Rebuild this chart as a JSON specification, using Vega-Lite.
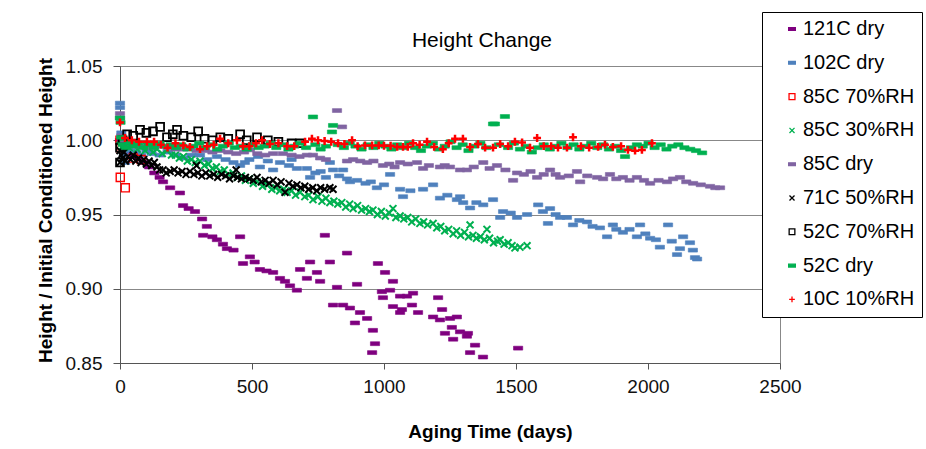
{
  "$schema": "https://vega.github.io/schema/vega-lite/v6.json",
  "autosize": {"type": "none"},
  "width": 660,
  "height": 297,
  "padding": {"left": 120, "top": 66, "right": 146, "bottom": 86},
  "background": "white",
  "title": {"text": "Height Change", "fontSize": 21, "fontWeight": "normal", "font": "Liberation Sans", "color": "black", "anchor": "middle", "frame": "group", "dx": 32, "dy": 42, "offset": -18, "baseline": "bottom"},
  "config": {
    "view": {"stroke": "#888888", "strokeWidth": 1},
    "axis": {"labelFont": "Liberation Sans", "labelFontSize": 19, "labelColor": "#111", "titleFont": "Liberation Sans", "titleFontSize": 19, "titleFontWeight": "bold", "titleColor": "black", "domainColor": "#555", "tickColor": "#555", "gridColor": "#888888", "gridOpacity": 1, "gridWidth": 1},
    "legend": {"padding": 7, "strokeColor": "black", "strokeWidth": 1, "fillColor": "white", "labelFontSize": 20, "labelFont": "Liberation Sans", "labelColor": "black", "symbolSize": 45, "symbolStrokeWidth": 1.3, "rowPadding": 13.8, "labelOffset": 1, "symbolOffset": 13, "cornerRadius": 0, "labelLimit": 300}
  },
  "data": {"values": [
    {"s":"121C dry","t":0,"h":1.0},{"s":"121C dry","t":10,"h":0.998},{"s":"121C dry","t":25,"h":0.995},{"s":"121C dry","t":40,"h":0.992},{"s":"121C dry","t":55,"h":0.99},{"s":"121C dry","t":70,"h":0.988},{"s":"121C dry","t":90,"h":0.985},{"s":"121C dry","t":110,"h":0.982},{"s":"121C dry","t":130,"h":0.978},{"s":"121C dry","t":150,"h":0.975},{"s":"121C dry","t":163,"h":0.972},{"s":"121C dry","t":190,"h":0.968},{"s":"121C dry","t":227,"h":0.9645},{"s":"121C dry","t":239,"h":0.956},{"s":"121C dry","t":260,"h":0.954},{"s":"121C dry","t":284,"h":0.952},{"s":"121C dry","t":311,"h":0.947},{"s":"121C dry","t":329,"h":0.942},{"s":"121C dry","t":315,"h":0.936},{"s":"121C dry","t":350,"h":0.935},{"s":"121C dry","t":367,"h":0.933},{"s":"121C dry","t":390,"h":0.93},{"s":"121C dry","t":405,"h":0.927},{"s":"121C dry","t":455,"h":0.935},{"s":"121C dry","t":430,"h":0.926},{"s":"121C dry","t":466,"h":0.917},{"s":"121C dry","t":492,"h":0.9215},{"s":"121C dry","t":510,"h":0.918},{"s":"121C dry","t":530,"h":0.913},{"s":"121C dry","t":555,"h":0.912},{"s":"121C dry","t":580,"h":0.911},{"s":"121C dry","t":606,"h":0.907},{"s":"121C dry","t":625,"h":0.905},{"s":"121C dry","t":644,"h":0.902},{"s":"121C dry","t":670,"h":0.899},{"s":"121C dry","t":682,"h":0.913},{"s":"121C dry","t":708,"h":0.907},{"s":"121C dry","t":720,"h":0.918},{"s":"121C dry","t":746,"h":0.911},{"s":"121C dry","t":758,"h":0.905},{"s":"121C dry","t":776,"h":0.936},{"s":"121C dry","t":795,"h":0.918},{"s":"121C dry","t":807,"h":0.889},{"s":"121C dry","t":822,"h":0.901},{"s":"121C dry","t":845,"h":0.889},{"s":"121C dry","t":860,"h":0.924},{"s":"121C dry","t":871,"h":0.887},{"s":"121C dry","t":890,"h":0.877},{"s":"121C dry","t":898,"h":0.903},{"s":"121C dry","t":909,"h":0.884},{"s":"121C dry","t":936,"h":0.88},{"s":"121C dry","t":955,"h":0.857},{"s":"121C dry","t":958,"h":0.872},{"s":"121C dry","t":966,"h":0.863},{"s":"121C dry","t":977,"h":0.917},{"s":"121C dry","t":992,"h":0.898},{"s":"121C dry","t":996,"h":0.894},{"s":"121C dry","t":1004,"h":0.911},{"s":"121C dry","t":1023,"h":0.899},{"s":"121C dry","t":1034,"h":0.905},{"s":"121C dry","t":1034,"h":0.888},{"s":"121C dry","t":1061,"h":0.895},{"s":"121C dry","t":1061,"h":0.884},{"s":"121C dry","t":1068,"h":0.886},{"s":"121C dry","t":1087,"h":0.895},{"s":"121C dry","t":1106,"h":0.889},{"s":"121C dry","t":1110,"h":0.897},{"s":"121C dry","t":1129,"h":0.884},{"s":"121C dry","t":1186,"h":0.881},{"s":"121C dry","t":1205,"h":0.894},{"s":"121C dry","t":1212,"h":0.879},{"s":"121C dry","t":1220,"h":0.886},{"s":"121C dry","t":1231,"h":0.87},{"s":"121C dry","t":1250,"h":0.88},{"s":"121C dry","t":1257,"h":0.874},{"s":"121C dry","t":1262,"h":0.866},{"s":"121C dry","t":1276,"h":0.881},{"s":"121C dry","t":1288,"h":0.871},{"s":"121C dry","t":1314,"h":0.868},{"s":"121C dry","t":1318,"h":0.87},{"s":"121C dry","t":1326,"h":0.857},{"s":"121C dry","t":1345,"h":0.862},{"s":"121C dry","t":1375,"h":0.854},{"s":"121C dry","t":1508,"h":0.86},

    {"s":"102C dry","t":0,"h":1.025},{"s":"102C dry","t":0,"h":1.022},{"s":"102C dry","t":5,"h":1.005},{"s":"102C dry","t":10,"h":0.998},{"s":"102C dry","t":15,"h":0.99},{"s":"102C dry","t":20,"h":0.985},{"s":"102C dry","t":30,"h":0.995},{"s":"102C dry","t":40,"h":0.993},{"s":"102C dry","t":60,"h":0.992},{"s":"102C dry","t":80,"h":0.99},{"s":"102C dry","t":100,"h":0.993},{"s":"102C dry","t":120,"h":0.991},{"s":"102C dry","t":150,"h":0.99},{"s":"102C dry","t":180,"h":0.992},{"s":"102C dry","t":210,"h":0.99},{"s":"102C dry","t":240,"h":0.988},{"s":"102C dry","t":270,"h":0.99},{"s":"102C dry","t":303,"h":0.99},{"s":"102C dry","t":330,"h":0.987},{"s":"102C dry","t":367,"h":0.989},{"s":"102C dry","t":400,"h":0.987},{"s":"102C dry","t":430,"h":0.985},{"s":"102C dry","t":455,"h":0.983},{"s":"102C dry","t":473,"h":0.985},{"s":"102C dry","t":490,"h":0.987},{"s":"102C dry","t":523,"h":0.989},{"s":"102C dry","t":530,"h":0.982},{"s":"102C dry","t":560,"h":0.986},{"s":"102C dry","t":580,"h":0.98},{"s":"102C dry","t":606,"h":0.985},{"s":"102C dry","t":640,"h":0.983},{"s":"102C dry","t":650,"h":0.987},{"s":"102C dry","t":670,"h":0.981},{"s":"102C dry","t":708,"h":0.981},{"s":"102C dry","t":720,"h":0.975},{"s":"102C dry","t":740,"h":0.978},{"s":"102C dry","t":760,"h":0.979},{"s":"102C dry","t":780,"h":0.975},{"s":"102C dry","t":795,"h":0.985},{"s":"102C dry","t":807,"h":0.98},{"s":"102C dry","t":830,"h":0.976},{"s":"102C dry","t":845,"h":0.98},{"s":"102C dry","t":860,"h":0.974},{"s":"102C dry","t":871,"h":0.972},{"s":"102C dry","t":898,"h":0.973},{"s":"102C dry","t":930,"h":0.971},{"s":"102C dry","t":950,"h":0.972},{"s":"102C dry","t":973,"h":0.968},{"s":"102C dry","t":1000,"h":0.97},{"s":"102C dry","t":1023,"h":0.977},{"s":"102C dry","t":1061,"h":0.967},{"s":"102C dry","t":1072,"h":0.962},{"s":"102C dry","t":1100,"h":0.966},{"s":"102C dry","t":1148,"h":0.967},{"s":"102C dry","t":1186,"h":0.97},{"s":"102C dry","t":1212,"h":0.961},{"s":"102C dry","t":1240,"h":0.963},{"s":"102C dry","t":1276,"h":0.96},{"s":"102C dry","t":1288,"h":0.962},{"s":"102C dry","t":1300,"h":0.958},{"s":"102C dry","t":1326,"h":0.9544},{"s":"102C dry","t":1350,"h":0.958},{"s":"102C dry","t":1376,"h":0.9565},{"s":"102C dry","t":1413,"h":0.96},{"s":"102C dry","t":1440,"h":0.948},{"s":"102C dry","t":1451,"h":0.952},{"s":"102C dry","t":1480,"h":0.951},{"s":"102C dry","t":1504,"h":0.948},{"s":"102C dry","t":1542,"h":0.95},{"s":"102C dry","t":1584,"h":0.9565},{"s":"102C dry","t":1602,"h":0.952},{"s":"102C dry","t":1621,"h":0.944},{"s":"102C dry","t":1629,"h":0.954},{"s":"102C dry","t":1650,"h":0.95},{"s":"102C dry","t":1667,"h":0.948},{"s":"102C dry","t":1693,"h":0.948},{"s":"102C dry","t":1716,"h":0.943},{"s":"102C dry","t":1740,"h":0.946},{"s":"102C dry","t":1769,"h":0.945},{"s":"102C dry","t":1790,"h":0.942},{"s":"102C dry","t":1818,"h":0.941},{"s":"102C dry","t":1845,"h":0.935},{"s":"102C dry","t":1867,"h":0.943},{"s":"102C dry","t":1880,"h":0.94},{"s":"102C dry","t":1905,"h":0.938},{"s":"102C dry","t":1930,"h":0.94},{"s":"102C dry","t":1958,"h":0.935},{"s":"102C dry","t":1970,"h":0.943},{"s":"102C dry","t":1990,"h":0.937},{"s":"102C dry","t":2008,"h":0.934},{"s":"102C dry","t":2030,"h":0.933},{"s":"102C dry","t":2045,"h":0.928},{"s":"102C dry","t":2076,"h":0.943},{"s":"102C dry","t":2090,"h":0.932},{"s":"102C dry","t":2110,"h":0.923},{"s":"102C dry","t":2121,"h":0.927},{"s":"102C dry","t":2133,"h":0.935},{"s":"102C dry","t":2159,"h":0.931},{"s":"102C dry","t":2170,"h":0.926},{"s":"102C dry","t":2178,"h":0.921},{"s":"102C dry","t":2186,"h":0.92},

    {"s":"85C 70%RH","t":0,"h":1.0},{"s":"85C 70%RH","t":3,"h":0.995},{"s":"85C 70%RH","t":1,"h":0.975},{"s":"85C 70%RH","t":20,"h":0.968},{"s":"85C 70%RH","t":50,"h":0.988},{"s":"85C 70%RH","t":80,"h":0.987},

    {"s":"85C 30%RH","t":0,"h":1.0},{"s":"85C 30%RH","t":10,"h":0.996},{"s":"85C 30%RH","t":20,"h":0.998},{"s":"85C 30%RH","t":35,"h":0.995},{"s":"85C 30%RH","t":50,"h":0.997},{"s":"85C 30%RH","t":65,"h":0.994},{"s":"85C 30%RH","t":80,"h":0.996},{"s":"85C 30%RH","t":95,"h":0.993},{"s":"85C 30%RH","t":110,"h":0.995},{"s":"85C 30%RH","t":125,"h":0.992},{"s":"85C 30%RH","t":140,"h":0.994},{"s":"85C 30%RH","t":160,"h":0.991},{"s":"85C 30%RH","t":178,"h":0.993},{"s":"85C 30%RH","t":195,"h":0.99},{"s":"85C 30%RH","t":210,"h":0.99},{"s":"85C 30%RH","t":225,"h":0.988},{"s":"85C 30%RH","t":240,"h":0.989},{"s":"85C 30%RH","t":255,"h":0.986},{"s":"85C 30%RH","t":270,"h":0.987},{"s":"85C 30%RH","t":285,"h":0.985},{"s":"85C 30%RH","t":303,"h":0.986},{"s":"85C 30%RH","t":320,"h":0.983},{"s":"85C 30%RH","t":335,"h":0.984},{"s":"85C 30%RH","t":350,"h":0.981},{"s":"85C 30%RH","t":365,"h":0.982},{"s":"85C 30%RH","t":380,"h":0.979},{"s":"85C 30%RH","t":395,"h":0.98},{"s":"85C 30%RH","t":410,"h":0.977},{"s":"85C 30%RH","t":428,"h":0.978},{"s":"85C 30%RH","t":445,"h":0.975},{"s":"85C 30%RH","t":460,"h":0.976},{"s":"85C 30%RH","t":475,"h":0.973},{"s":"85C 30%RH","t":490,"h":0.974},{"s":"85C 30%RH","t":505,"h":0.971},{"s":"85C 30%RH","t":520,"h":0.972},{"s":"85C 30%RH","t":540,"h":0.969},{"s":"85C 30%RH","t":557,"h":0.97},{"s":"85C 30%RH","t":575,"h":0.967},{"s":"85C 30%RH","t":590,"h":0.968},{"s":"85C 30%RH","t":605,"h":0.966},{"s":"85C 30%RH","t":620,"h":0.967},{"s":"85C 30%RH","t":633,"h":0.965},{"s":"85C 30%RH","t":650,"h":0.966},{"s":"85C 30%RH","t":665,"h":0.963},{"s":"85C 30%RH","t":682,"h":0.965},{"s":"85C 30%RH","t":700,"h":0.962},{"s":"85C 30%RH","t":715,"h":0.963},{"s":"85C 30%RH","t":731,"h":0.96},{"s":"85C 30%RH","t":750,"h":0.962},{"s":"85C 30%RH","t":765,"h":0.959},{"s":"85C 30%RH","t":780,"h":0.961},{"s":"85C 30%RH","t":795,"h":0.958},{"s":"85C 30%RH","t":810,"h":0.959},{"s":"85C 30%RH","t":825,"h":0.957},{"s":"85C 30%RH","t":840,"h":0.958},{"s":"85C 30%RH","t":855,"h":0.955},{"s":"85C 30%RH","t":870,"h":0.957},{"s":"85C 30%RH","t":883,"h":0.954},{"s":"85C 30%RH","t":900,"h":0.956},{"s":"85C 30%RH","t":915,"h":0.953},{"s":"85C 30%RH","t":930,"h":0.954},{"s":"85C 30%RH","t":945,"h":0.952},{"s":"85C 30%RH","t":958,"h":0.953},{"s":"85C 30%RH","t":975,"h":0.95},{"s":"85C 30%RH","t":990,"h":0.952},{"s":"85C 30%RH","t":1005,"h":0.949},{"s":"85C 30%RH","t":1020,"h":0.951},{"s":"85C 30%RH","t":1034,"h":0.954},{"s":"85C 30%RH","t":1045,"h":0.948},{"s":"85C 30%RH","t":1061,"h":0.949},{"s":"85C 30%RH","t":1075,"h":0.947},{"s":"85C 30%RH","t":1090,"h":0.948},{"s":"85C 30%RH","t":1105,"h":0.945},{"s":"85C 30%RH","t":1120,"h":0.947},{"s":"85C 30%RH","t":1136,"h":0.944},{"s":"85C 30%RH","t":1150,"h":0.945},{"s":"85C 30%RH","t":1165,"h":0.943},{"s":"85C 30%RH","t":1186,"h":0.944},{"s":"85C 30%RH","t":1200,"h":0.941},{"s":"85C 30%RH","t":1215,"h":0.942},{"s":"85C 30%RH","t":1230,"h":0.939},{"s":"85C 30%RH","t":1245,"h":0.94},{"s":"85C 30%RH","t":1262,"h":0.937},{"s":"85C 30%RH","t":1275,"h":0.939},{"s":"85C 30%RH","t":1290,"h":0.936},{"s":"85C 30%RH","t":1305,"h":0.938},{"s":"85C 30%RH","t":1320,"h":0.935},{"s":"85C 30%RH","t":1326,"h":0.943},{"s":"85C 30%RH","t":1337,"h":0.936},{"s":"85C 30%RH","t":1350,"h":0.934},{"s":"85C 30%RH","t":1365,"h":0.935},{"s":"85C 30%RH","t":1380,"h":0.933},{"s":"85C 30%RH","t":1390,"h":0.94},{"s":"85C 30%RH","t":1400,"h":0.934},{"s":"85C 30%RH","t":1415,"h":0.931},{"s":"85C 30%RH","t":1430,"h":0.932},{"s":"85C 30%RH","t":1440,"h":0.933},{"s":"85C 30%RH","t":1455,"h":0.93},{"s":"85C 30%RH","t":1470,"h":0.931},{"s":"85C 30%RH","t":1485,"h":0.929},{"s":"85C 30%RH","t":1496,"h":0.9275},{"s":"85C 30%RH","t":1515,"h":0.928},{"s":"85C 30%RH","t":1542,"h":0.929},

    {"s":"85C dry","t":0,"h":1.018},{"s":"85C dry","t":0,"h":1.015},{"s":"85C dry","t":5,"h":1.003},{"s":"85C dry","t":20,"h":0.998},{"s":"85C dry","t":40,"h":0.997},{"s":"85C dry","t":60,"h":0.996},{"s":"85C dry","t":90,"h":0.996},{"s":"85C dry","t":120,"h":0.995},{"s":"85C dry","t":150,"h":0.996},{"s":"85C dry","t":180,"h":0.995},{"s":"85C dry","t":210,"h":0.994},{"s":"85C dry","t":240,"h":0.994},{"s":"85C dry","t":265,"h":0.9955},{"s":"85C dry","t":290,"h":0.993},{"s":"85C dry","t":320,"h":0.993},{"s":"85C dry","t":350,"h":0.992},{"s":"85C dry","t":380,"h":0.993},{"s":"85C dry","t":410,"h":0.992},{"s":"85C dry","t":440,"h":0.991},{"s":"85C dry","t":470,"h":0.992},{"s":"85C dry","t":492,"h":0.9935},{"s":"85C dry","t":520,"h":0.991},{"s":"85C dry","t":550,"h":0.99},{"s":"85C dry","t":580,"h":0.991},{"s":"85C dry","t":617,"h":0.991},{"s":"85C dry","t":650,"h":0.99},{"s":"85C dry","t":680,"h":0.989},{"s":"85C dry","t":708,"h":0.99},{"s":"85C dry","t":731,"h":0.99},{"s":"85C dry","t":758,"h":0.988},{"s":"85C dry","t":780,"h":0.987},{"s":"85C dry","t":822,"h":1.02},{"s":"85C dry","t":841,"h":1.009},{"s":"85C dry","t":860,"h":0.986},{"s":"85C dry","t":883,"h":0.987},{"s":"85C dry","t":910,"h":0.986},{"s":"85C dry","t":936,"h":0.985},{"s":"85C dry","t":960,"h":0.986},{"s":"85C dry","t":996,"h":0.983},{"s":"85C dry","t":1020,"h":0.984},{"s":"85C dry","t":1040,"h":0.982},{"s":"85C dry","t":1061,"h":0.985},{"s":"85C dry","t":1090,"h":0.984},{"s":"85C dry","t":1125,"h":0.985},{"s":"85C dry","t":1148,"h":0.981},{"s":"85C dry","t":1170,"h":0.983},{"s":"85C dry","t":1212,"h":0.982},{"s":"85C dry","t":1230,"h":0.983},{"s":"85C dry","t":1250,"h":0.982},{"s":"85C dry","t":1288,"h":0.98},{"s":"85C dry","t":1314,"h":0.98},{"s":"85C dry","t":1340,"h":0.982},{"s":"85C dry","t":1376,"h":0.985},{"s":"85C dry","t":1400,"h":0.981},{"s":"85C dry","t":1428,"h":0.983},{"s":"85C dry","t":1460,"h":0.98},{"s":"85C dry","t":1489,"h":0.973},{"s":"85C dry","t":1504,"h":0.978},{"s":"85C dry","t":1530,"h":0.977},{"s":"85C dry","t":1555,"h":0.979},{"s":"85C dry","t":1580,"h":0.975},{"s":"85C dry","t":1605,"h":0.977},{"s":"85C dry","t":1629,"h":0.98},{"s":"85C dry","t":1650,"h":0.977},{"s":"85C dry","t":1667,"h":0.975},{"s":"85C dry","t":1700,"h":0.976},{"s":"85C dry","t":1731,"h":0.979},{"s":"85C dry","t":1743,"h":0.972},{"s":"85C dry","t":1770,"h":0.976},{"s":"85C dry","t":1807,"h":0.975},{"s":"85C dry","t":1830,"h":0.974},{"s":"85C dry","t":1856,"h":0.977},{"s":"85C dry","t":1880,"h":0.974},{"s":"85C dry","t":1905,"h":0.975},{"s":"85C dry","t":1930,"h":0.973},{"s":"85C dry","t":1958,"h":0.975},{"s":"85C dry","t":1985,"h":0.973},{"s":"85C dry","t":2008,"h":0.971},{"s":"85C dry","t":2040,"h":0.973},{"s":"85C dry","t":2072,"h":0.972},{"s":"85C dry","t":2095,"h":0.974},{"s":"85C dry","t":2121,"h":0.975},{"s":"85C dry","t":2145,"h":0.972},{"s":"85C dry","t":2171,"h":0.971},{"s":"85C dry","t":2200,"h":0.97},{"s":"85C dry","t":2235,"h":0.969},{"s":"85C dry","t":2255,"h":0.968},{"s":"85C dry","t":2273,"h":0.968},

    {"s":"71C 50%RH","t":0,"h":0.993},{"s":"71C 50%RH","t":0,"h":0.985},{"s":"71C 50%RH","t":5,"h":0.99},{"s":"71C 50%RH","t":10,"h":0.988},{"s":"71C 50%RH","t":15,"h":0.992},{"s":"71C 50%RH","t":20,"h":0.986},{"s":"71C 50%RH","t":30,"h":0.989},{"s":"71C 50%RH","t":40,"h":0.987},{"s":"71C 50%RH","t":50,"h":0.99},{"s":"71C 50%RH","t":60,"h":0.986},{"s":"71C 50%RH","t":70,"h":0.988},{"s":"71C 50%RH","t":80,"h":0.985},{"s":"71C 50%RH","t":90,"h":0.987},{"s":"71C 50%RH","t":100,"h":0.984},{"s":"71C 50%RH","t":110,"h":0.986},{"s":"71C 50%RH","t":120,"h":0.983},{"s":"71C 50%RH","t":130,"h":0.985},{"s":"71C 50%RH","t":140,"h":0.982},{"s":"71C 50%RH","t":150,"h":0.98},{"s":"71C 50%RH","t":163,"h":0.98},{"s":"71C 50%RH","t":175,"h":0.978},{"s":"71C 50%RH","t":190,"h":0.979},{"s":"71C 50%RH","t":205,"h":0.98},{"s":"71C 50%RH","t":220,"h":0.978},{"s":"71C 50%RH","t":235,"h":0.979},{"s":"71C 50%RH","t":250,"h":0.977},{"s":"71C 50%RH","t":265,"h":0.979},{"s":"71C 50%RH","t":280,"h":0.977},{"s":"71C 50%RH","t":290,"h":0.983},{"s":"71C 50%RH","t":295,"h":0.978},{"s":"71C 50%RH","t":310,"h":0.976},{"s":"71C 50%RH","t":325,"h":0.978},{"s":"71C 50%RH","t":340,"h":0.976},{"s":"71C 50%RH","t":355,"h":0.977},{"s":"71C 50%RH","t":370,"h":0.975},{"s":"71C 50%RH","t":385,"h":0.977},{"s":"71C 50%RH","t":400,"h":0.976},{"s":"71C 50%RH","t":415,"h":0.974},{"s":"71C 50%RH","t":430,"h":0.976},{"s":"71C 50%RH","t":440,"h":0.98},{"s":"71C 50%RH","t":445,"h":0.975},{"s":"71C 50%RH","t":460,"h":0.974},{"s":"71C 50%RH","t":475,"h":0.975},{"s":"71C 50%RH","t":490,"h":0.974},{"s":"71C 50%RH","t":505,"h":0.973},{"s":"71C 50%RH","t":519,"h":0.975},{"s":"71C 50%RH","t":535,"h":0.972},{"s":"71C 50%RH","t":550,"h":0.973},{"s":"71C 50%RH","t":565,"h":0.971},{"s":"71C 50%RH","t":580,"h":0.973},{"s":"71C 50%RH","t":595,"h":0.97},{"s":"71C 50%RH","t":610,"h":0.972},{"s":"71C 50%RH","t":625,"h":0.965},{"s":"71C 50%RH","t":640,"h":0.971},{"s":"71C 50%RH","t":655,"h":0.969},{"s":"71C 50%RH","t":670,"h":0.97},{"s":"71C 50%RH","t":685,"h":0.968},{"s":"71C 50%RH","t":700,"h":0.969},{"s":"71C 50%RH","t":715,"h":0.967},{"s":"71C 50%RH","t":730,"h":0.968},{"s":"71C 50%RH","t":745,"h":0.966},{"s":"71C 50%RH","t":760,"h":0.968},{"s":"71C 50%RH","t":775,"h":0.967},{"s":"71C 50%RH","t":795,"h":0.968},{"s":"71C 50%RH","t":807,"h":0.967},

    {"s":"52C 70%RH","t":0,"h":0.985},{"s":"52C 70%RH","t":0,"h":0.995},{"s":"52C 70%RH","t":10,"h":1.0},{"s":"52C 70%RH","t":27,"h":1.004},{"s":"52C 70%RH","t":50,"h":1.003},{"s":"52C 70%RH","t":76,"h":1.007},{"s":"52C 70%RH","t":100,"h":1.005},{"s":"52C 70%RH","t":125,"h":1.006},{"s":"52C 70%RH","t":152,"h":1.009},{"s":"52C 70%RH","t":178,"h":1.002},{"s":"52C 70%RH","t":200,"h":1.004},{"s":"52C 70%RH","t":216,"h":1.007},{"s":"52C 70%RH","t":240,"h":1.003},{"s":"52C 70%RH","t":270,"h":1.002},{"s":"52C 70%RH","t":296,"h":1.006},{"s":"52C 70%RH","t":320,"h":1.001},{"s":"52C 70%RH","t":350,"h":1.0},{"s":"52C 70%RH","t":380,"h":1.002},{"s":"52C 70%RH","t":410,"h":1.001},{"s":"52C 70%RH","t":455,"h":1.004},{"s":"52C 70%RH","t":480,"h":1.0},{"s":"52C 70%RH","t":519,"h":1.002},{"s":"52C 70%RH","t":560,"h":1.0},{"s":"52C 70%RH","t":600,"h":0.999},{"s":"52C 70%RH","t":650,"h":0.998},{"s":"52C 70%RH","t":682,"h":0.998},

    {"s":"52C dry","t":0,"h":1.015},{"s":"52C dry","t":2,"h":1.012},{"s":"52C dry","t":5,"h":1.002},{"s":"52C dry","t":10,"h":0.997},{"s":"52C dry","t":22,"h":0.995},{"s":"52C dry","t":35,"h":0.998},{"s":"52C dry","t":50,"h":0.996},{"s":"52C dry","t":68,"h":0.998},{"s":"52C dry","t":88,"h":0.995},{"s":"52C dry","t":108,"h":0.997},{"s":"52C dry","t":128,"h":0.995},{"s":"52C dry","t":150,"h":0.998},{"s":"52C dry","t":170,"h":0.996},{"s":"52C dry","t":192,"h":0.997},{"s":"52C dry","t":212,"h":0.995},{"s":"52C dry","t":232,"h":0.997},{"s":"52C dry","t":255,"h":0.994},{"s":"52C dry","t":278,"h":0.996},{"s":"52C dry","t":300,"h":0.998},{"s":"52C dry","t":322,"h":0.995},{"s":"52C dry","t":345,"h":0.997},{"s":"52C dry","t":368,"h":0.994},{"s":"52C dry","t":390,"h":0.996},{"s":"52C dry","t":412,"h":0.998},{"s":"52C dry","t":435,"h":0.995},{"s":"52C dry","t":458,"h":0.996},{"s":"52C dry","t":480,"h":0.994},{"s":"52C dry","t":502,"h":0.997},{"s":"52C dry","t":525,"h":0.995},{"s":"52C dry","t":548,"h":0.996},{"s":"52C dry","t":570,"h":0.998},{"s":"52C dry","t":592,"h":0.995},{"s":"52C dry","t":615,"h":0.997},{"s":"52C dry","t":638,"h":0.994},{"s":"52C dry","t":660,"h":0.996},{"s":"52C dry","t":682,"h":0.998},{"s":"52C dry","t":705,"h":0.995},{"s":"52C dry","t":731,"h":1.0157},{"s":"52C dry","t":740,"h":0.997},{"s":"52C dry","t":760,"h":0.994},{"s":"52C dry","t":780,"h":0.996},{"s":"52C dry","t":803,"h":1.0056},{"s":"52C dry","t":807,"h":1.01},{"s":"52C dry","t":825,"h":0.997},{"s":"52C dry","t":848,"h":0.995},{"s":"52C dry","t":870,"h":0.998},{"s":"52C dry","t":892,"h":0.996},{"s":"52C dry","t":915,"h":0.994},{"s":"52C dry","t":938,"h":0.997},{"s":"52C dry","t":960,"h":0.995},{"s":"52C dry","t":982,"h":0.998},{"s":"52C dry","t":1005,"h":0.996},{"s":"52C dry","t":1028,"h":0.994},{"s":"52C dry","t":1050,"h":0.997},{"s":"52C dry","t":1072,"h":0.995},{"s":"52C dry","t":1095,"h":0.998},{"s":"52C dry","t":1118,"h":0.995},{"s":"52C dry","t":1140,"h":0.993},{"s":"52C dry","t":1162,"h":0.996},{"s":"52C dry","t":1185,"h":0.998},{"s":"52C dry","t":1208,"h":0.994},{"s":"52C dry","t":1230,"h":0.996},{"s":"52C dry","t":1252,"h":0.999},{"s":"52C dry","t":1275,"h":0.995},{"s":"52C dry","t":1298,"h":0.997},{"s":"52C dry","t":1320,"h":0.993},{"s":"52C dry","t":1342,"h":0.996},{"s":"52C dry","t":1365,"h":0.998},{"s":"52C dry","t":1388,"h":0.995},{"s":"52C dry","t":1413,"h":1.011},{"s":"52C dry","t":1420,"h":1.011},{"s":"52C dry","t":1435,"h":0.997},{"s":"52C dry","t":1458,"h":1.016},{"s":"52C dry","t":1470,"h":0.995},{"s":"52C dry","t":1492,"h":0.998},{"s":"52C dry","t":1515,"h":0.994},{"s":"52C dry","t":1538,"h":0.996},{"s":"52C dry","t":1560,"h":0.992},{"s":"52C dry","t":1582,"h":0.995},{"s":"52C dry","t":1605,"h":0.997},{"s":"52C dry","t":1628,"h":0.994},{"s":"52C dry","t":1650,"h":0.996},{"s":"52C dry","t":1672,"h":0.998},{"s":"52C dry","t":1695,"h":0.995},{"s":"52C dry","t":1718,"h":0.997},{"s":"52C dry","t":1740,"h":0.994},{"s":"52C dry","t":1762,"h":0.996},{"s":"52C dry","t":1785,"h":0.998},{"s":"52C dry","t":1808,"h":0.995},{"s":"52C dry","t":1830,"h":0.997},{"s":"52C dry","t":1852,"h":0.994},{"s":"52C dry","t":1875,"h":0.996},{"s":"52C dry","t":1898,"h":0.993},{"s":"52C dry","t":1913,"h":0.989},{"s":"52C dry","t":1935,"h":0.995},{"s":"52C dry","t":1958,"h":0.997},{"s":"52C dry","t":1980,"h":0.996},{"s":"52C dry","t":2002,"h":0.998},{"s":"52C dry","t":2025,"h":0.995},{"s":"52C dry","t":2048,"h":0.997},{"s":"52C dry","t":2070,"h":0.994},{"s":"52C dry","t":2092,"h":0.996},{"s":"52C dry","t":2115,"h":0.997},{"s":"52C dry","t":2138,"h":0.995},{"s":"52C dry","t":2160,"h":0.994},{"s":"52C dry","t":2182,"h":0.993},{"s":"52C dry","t":2205,"h":0.9915},

    {"s":"10C 10%RH","t":0,"h":1.012},{"s":"10C 10%RH","t":19,"h":1.0015},{"s":"10C 10%RH","t":45,"h":1.0},{"s":"10C 10%RH","t":72,"h":0.999},{"s":"10C 10%RH","t":102,"h":0.999},{"s":"10C 10%RH","t":129,"h":0.999},{"s":"10C 10%RH","t":155,"h":0.997},{"s":"10C 10%RH","t":180,"h":0.995},{"s":"10C 10%RH","t":210,"h":0.998},{"s":"10C 10%RH","t":240,"h":0.9965},{"s":"10C 10%RH","t":265,"h":0.9955},{"s":"10C 10%RH","t":303,"h":0.994},{"s":"10C 10%RH","t":330,"h":0.996},{"s":"10C 10%RH","t":355,"h":0.997},{"s":"10C 10%RH","t":379,"h":1.001},{"s":"10C 10%RH","t":410,"h":0.998},{"s":"10C 10%RH","t":443,"h":1.0},{"s":"10C 10%RH","t":466,"h":0.996},{"s":"10C 10%RH","t":490,"h":0.996},{"s":"10C 10%RH","t":515,"h":0.998},{"s":"10C 10%RH","t":538,"h":1.0},{"s":"10C 10%RH","t":568,"h":0.9975},{"s":"10C 10%RH","t":600,"h":0.998},{"s":"10C 10%RH","t":633,"h":0.996},{"s":"10C 10%RH","t":660,"h":0.996},{"s":"10C 10%RH","t":701,"h":0.999},{"s":"10C 10%RH","t":727,"h":1.001},{"s":"10C 10%RH","t":750,"h":1.0},{"s":"10C 10%RH","t":775,"h":0.9995},{"s":"10C 10%RH","t":800,"h":0.999},{"s":"10C 10%RH","t":826,"h":0.998},{"s":"10C 10%RH","t":850,"h":0.9975},{"s":"10C 10%RH","t":879,"h":1.0},{"s":"10C 10%RH","t":900,"h":0.996},{"s":"10C 10%RH","t":928,"h":0.9965},{"s":"10C 10%RH","t":955,"h":0.9965},{"s":"10C 10%RH","t":980,"h":0.9965},{"s":"10C 10%RH","t":1000,"h":0.9963},{"s":"10C 10%RH","t":1025,"h":0.9963},{"s":"10C 10%RH","t":1050,"h":0.9955},{"s":"10C 10%RH","t":1072,"h":0.9955},{"s":"10C 10%RH","t":1090,"h":0.9955},{"s":"10C 10%RH","t":1110,"h":0.998},{"s":"10C 10%RH","t":1135,"h":0.997},{"s":"10C 10%RH","t":1163,"h":0.999},{"s":"10C 10%RH","t":1190,"h":0.9955},{"s":"10C 10%RH","t":1223,"h":0.994},{"s":"10C 10%RH","t":1245,"h":0.998},{"s":"10C 10%RH","t":1269,"h":1.001},{"s":"10C 10%RH","t":1299,"h":1.001},{"s":"10C 10%RH","t":1326,"h":0.9955},{"s":"10C 10%RH","t":1356,"h":0.9975},{"s":"10C 10%RH","t":1383,"h":0.995},{"s":"10C 10%RH","t":1413,"h":0.995},{"s":"10C 10%RH","t":1440,"h":0.9975},{"s":"10C 10%RH","t":1470,"h":0.996},{"s":"10C 10%RH","t":1496,"h":0.999},{"s":"10C 10%RH","t":1523,"h":0.9985},{"s":"10C 10%RH","t":1553,"h":0.995},{"s":"10C 10%RH","t":1580,"h":1.0015},{"s":"10C 10%RH","t":1605,"h":0.996},{"s":"10C 10%RH","t":1633,"h":0.996},{"s":"10C 10%RH","t":1659,"h":0.995},{"s":"10C 10%RH","t":1693,"h":0.995},{"s":"10C 10%RH","t":1716,"h":1.002},{"s":"10C 10%RH","t":1746,"h":0.996},{"s":"10C 10%RH","t":1777,"h":0.995},{"s":"10C 10%RH","t":1811,"h":0.9955},{"s":"10C 10%RH","t":1837,"h":0.997},{"s":"10C 10%RH","t":1867,"h":0.9955},{"s":"10C 10%RH","t":1898,"h":0.996},{"s":"10C 10%RH","t":1924,"h":0.9935},{"s":"10C 10%RH","t":1951,"h":0.993},{"s":"10C 10%RH","t":1977,"h":0.9935},{"s":"10C 10%RH","t":2015,"h":0.998}
  ]},
  "encoding": {
    "x": {"field": "t", "type": "quantitative", "title": "Aging Time (days)",
      "scale": {"domain": [0, 2500], "nice": false, "zero": false},
      "axis": {"values": [0, 500, 1000, 1500, 2000, 2500], "format": "d", "grid": false, "tickSize": 6, "labelPadding": 8, "titleX": 370, "titleY": 68, "titleBaseline": "middle", "labelFlush": false}},
    "y": {"field": "h", "type": "quantitative", "title": "Height / Initial Conditioned Height",
      "scale": {"domain": [0.85, 1.05], "nice": false, "zero": false},
      "axis": {"values": [0.85, 0.9, 0.95, 1.0, 1.05], "format": ".2f", "grid": true, "tickSize": 7, "labelPadding": 11, "titleX": -75, "titleY": 144, "titleBaseline": "middle", "titleAngle": -90, "labelFlush": false}},
    "shape": {"field": "s", "type": "nominal", "title": null,
      "legend": {"orient": "none", "legendX": 642, "legendY": -54},
      "scale": {"domain": ["121C dry","102C dry","85C 70%RH","85C 30%RH","85C dry","71C 50%RH","52C 70%RH","52C dry","10C 10%RH"],
        "range": ["M-1,-0.42L1,-0.42L1,0.42L-1,0.42Z","M-1,-0.42L1,-0.42L1,0.42L-1,0.42Z","M-0.88,-0.88L0.88,-0.88L0.88,0.88L-0.88,0.88Z","M-0.75,-0.75L0.75,0.75M-0.75,0.75L0.75,-0.75","M-1,-0.42L1,-0.42L1,0.42L-1,0.42Z","M-0.75,-0.75L0.75,0.75M-0.75,0.75L0.75,-0.75","M-0.85,-0.85L0.85,-0.85L0.85,0.85L-0.85,0.85Z","M-1,-0.42L1,-0.42L1,0.42L-1,0.42Z","M-0.85,0L0.85,0M0,-0.85L0,0.85"]}},
    "stroke": {"field": "s", "type": "nominal", "title": null,
      "legend": {"orient": "none", "legendX": 642, "legendY": -54},
      "scale": {"domain": ["121C dry","102C dry","85C 70%RH","85C 30%RH","85C dry","71C 50%RH","52C 70%RH","52C dry","10C 10%RH"],
        "range": ["#7F007F","#4F81BD","#FF0000","#00B050","#8064A2","#000000","#000000","#00B050","#FF0000"]}},
    "fill": {"field": "s", "type": "nominal", "title": null,
      "legend": {"orient": "none", "legendX": 642, "legendY": -54},
      "scale": {"domain": ["121C dry","102C dry","85C 70%RH","85C 30%RH","85C dry","71C 50%RH","52C 70%RH","52C dry","10C 10%RH"],
        "range": ["#7F007F","#4F81BD","transparent","transparent","#8064A2","transparent","transparent","#00B050","transparent"]}}
  },
  "layer": [
    {"transform": [{"filter": "datum.s == '121C dry'"}], "mark": {"type": "point", "opacity": 1, "size": 85, "strokeWidth": 0.6}},
    {"transform": [{"filter": "datum.s == '102C dry'"}], "mark": {"type": "point", "opacity": 1, "size": 85, "strokeWidth": 0.6}},
    {"transform": [{"filter": "datum.s == '85C 70%RH'"}], "mark": {"type": "point", "opacity": 1, "size": 85, "strokeWidth": 1.4}},
    {"transform": [{"filter": "datum.s == '85C 30%RH'"}], "mark": {"type": "point", "opacity": 1, "size": 85, "strokeWidth": 2}},
    {"transform": [{"filter": "datum.s == '85C dry'"}], "mark": {"type": "point", "opacity": 1, "size": 85, "strokeWidth": 0.6}},
    {"transform": [{"filter": "datum.s == '71C 50%RH'"}], "mark": {"type": "point", "opacity": 1, "size": 85, "strokeWidth": 2}},
    {"transform": [{"filter": "datum.s == '52C 70%RH'"}], "mark": {"type": "point", "opacity": 1, "size": 85, "strokeWidth": 1.8}},
    {"transform": [{"filter": "datum.s == '52C dry'"}], "mark": {"type": "point", "opacity": 1, "size": 85, "strokeWidth": 0.6}},
    {"transform": [{"filter": "datum.s == '10C 10%RH'"}], "mark": {"type": "point", "opacity": 1, "size": 85, "strokeWidth": 2.5}}
  ]
}
